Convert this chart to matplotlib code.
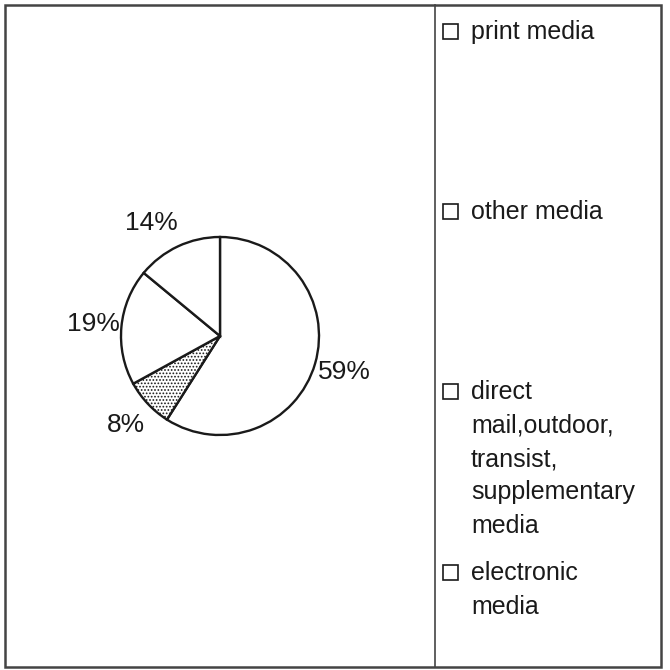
import numpy as np
import matplotlib.pyplot as plt
from matplotlib.patches import Rectangle
from matplotlib.lines import Line2D

plt.rcParams['font.family'] = ['Liberation Sans', 'DejaVu Sans']
plt.rcParams['hatch.linewidth'] = 0.8

# data
categories = ['print media', 'other media',
              'direct\nmail,outdoor,\ntransist,\nsupplementary\nmedia',
              'electronic\nmedia']
shares = [59, 8, 19, 14]
pct_labels = ['59%', '8%', '19%', '14%']
hatches = ['', '.....', '', '']
label_dist = [1.31, 1.31, 1.28, 1.33]
label_turn = [0, 0, 0, 6]   # degrees, nudges the label round the pie

fig = plt.figure(figsize=(6.7, 6.7), dpi=100)
W = 670.0

# pie area (left panel), axes box = pie bounding box
ax = fig.add_axes([121 / W, 1 - 435 / W, 198 / W, 198 / W])
wedges, texts = ax.pie(shares, labels=pct_labels, startangle=90, counterclock=False,
                       colors=['white'] * 4,
                       wedgeprops=dict(edgecolor='#1a1a1a', linewidth=1.7),
                       textprops=dict(fontsize=19, color='#1a1a1a'))
for w, h in zip(wedges, hatches):
    if h:
        w.set_hatch(h)
for w, t, d, turn in zip(wedges, texts, label_dist, label_turn):
    ang = np.deg2rad((w.theta1 + w.theta2) / 2 + turn)
    t.set_position((d * np.cos(ang), d * np.sin(ang)))
    t.set_ha('center')
    t.set_va('center')
ax.set_xlim(-1, 1)
ax.set_ylim(-1, 1)
ax.set_aspect('equal')

# frame and divider
fig.add_artist(Rectangle((5 / W, 3 / W), 656 / W, 662 / W, transform=fig.transFigure,
                         fill=False, edgecolor='#444444', linewidth=1.8))
fig.add_artist(Line2D([435 / W, 435 / W], [3 / W, 665 / W], transform=fig.transFigure,
                      color='#444444', linewidth=1.2))

# legend entries (manual, uneven spacing as in the original); y = baseline of first line
legend_base = [39, 219, 399, 580]
line_step = 33.5
for name, y in zip(categories, legend_base):
    fig.add_artist(Rectangle((443 / W, 1 - y / W), 15 / W, 15 / W,
                             transform=fig.transFigure, fill=False,
                             edgecolor='#1a1a1a', linewidth=1.2))
    for i, line in enumerate(name.split('\n')):
        fig.text(471 / W, 1 - (y + i * line_step) / W, line, fontsize=18,
                 color='#1a1a1a', va='baseline', ha='left')

fig.savefig('out.png', dpi=100, facecolor='white')
